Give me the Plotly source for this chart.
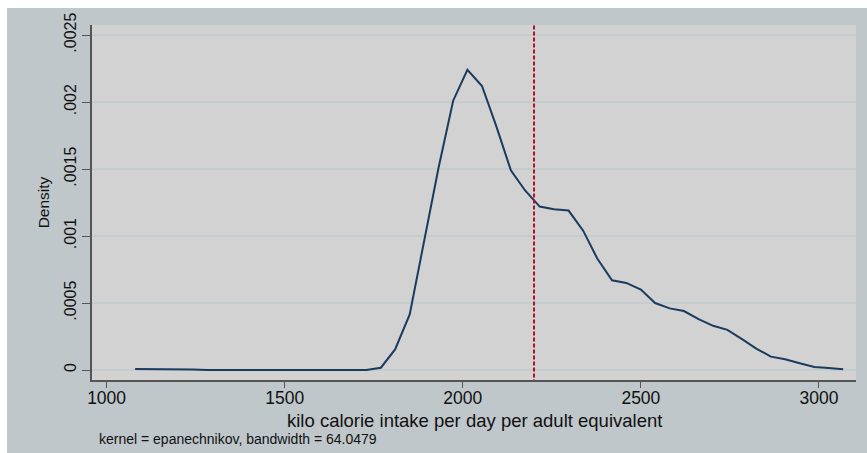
import plotly.graph_objects as go

# Kernel density estimate
kcal = [1080, 1121, 1161, 1202, 1242, 1283, 1323, 1364, 1405, 1445, 1486, 1526,
        1567, 1607, 1648, 1689, 1729, 1770, 1810, 1851, 1891, 1932, 1973, 2013,
        2054, 2094, 2135, 2175, 2216, 2256, 2297, 2338, 2378, 2419, 2459, 2500,
        2540, 2581, 2621, 2662, 2703, 2743, 2784, 2824, 2865, 2905, 2946, 2987,
        3027, 3068]
density = [0.0000075, 0.0000075, 0.0000075, 0.0000070, 0.000004, 0.0, 0.0, 0.0,
           0.0, 0.0, 0.0, 0.0, 0.0, 0.0, 0.0, 0.0, 0.0, 0.000017, 0.000154, 0.000415,
           0.00096, 0.00151, 0.00201, 0.00224, 0.00212, 0.00182, 0.00149, 0.00134,
           0.00122, 0.00120, 0.00119, 0.00104, 0.00083, 0.00067, 0.00065, 0.00060,
           0.00050, 0.00046, 0.00044, 0.00038, 0.00033, 0.00030, 0.00023, 0.00016,
           0.00010, 0.00008, 0.00005, 0.000022, 0.000015, 0.000005]
ref_line_x = 2200

x_ticks = [1000, 1500, 2000, 2500, 3000]
y_ticks = [0, 0.0005, 0.001, 0.0015, 0.002, 0.0025]
y_tick_text = ["0", ".0005", ".001", ".0015", ".002", ".0025"]

FONT = "Liberation Sans, Arial, sans-serif"
OUTER = "#bfc7ca"
PLOT = "#d2d2d2"
GRID = "#c3cccf"

fig = go.Figure()
fig.add_trace(go.Scatter(x=kcal, y=density, mode="lines",
                         line=dict(color="#1a3b5d", width=2), showlegend=False))
fig.add_trace(go.Scatter(x=[ref_line_x, ref_line_x], y=[-0.0001, 0.0026], mode="lines",
                         line=dict(color="#b3102b", width=2, dash="4px,2px"),
                         showlegend=False))

fig.update_layout(
    width=867, height=453,
    margin=dict(l=92, r=11, t=25, b=73),
    paper_bgcolor=OUTER, plot_bgcolor=PLOT,
    font=dict(family=FONT, color="#111111"),
    xaxis=dict(range=[959, 3104], tickvals=x_ticks, ticks="outside", ticklen=6,
               tickcolor="#555555", showline=True, linecolor="#555555", linewidth=1.5,
               showgrid=False, zeroline=False, tickfont=dict(size=17.5),
               ticklabelstandoff=-5),
    yaxis=dict(range=[-0.0000746, 0.002575], tickvals=y_ticks, ticktext=y_tick_text,
               tickangle=-90, ticks="outside", ticklen=8, tickcolor="#555555",
               showline=True, linecolor="#555555", linewidth=1.5,
               showgrid=True, gridcolor=GRID, gridwidth=1.5, zeroline=False,
               tickfont=dict(size=16),
               title=dict(text="Density", font=dict(size=15.5), standoff=8)),
    shapes=[
        dict(type="rect", xref="paper", yref="paper", x0=-0.2, x1=1.1,
             y0=(380 - 8) / 355, y1=1.2, fillcolor="white", line_width=0, layer="below"),
        dict(type="rect", xref="paper", yref="paper", x0=-0.2, x1=(7 - 92) / 764,
             y0=-0.3, y1=1.2, fillcolor="white", line_width=0, layer="below"),
    ],
    annotations=[
        dict(text="kilo calorie intake per day per adult equivalent", xref="paper",
             yref="paper", x=0.5, y=(380 - 420) / 355, xanchor="center",
             yanchor="middle", showarrow=False, font=dict(size=18.5)),
        dict(text="kernel = epanechnikov, bandwidth = 64.0479", xref="paper", yref="paper",
             x=(97 - 92) / 764, y=(380 - 439) / 355, xanchor="left", yanchor="middle",
             showarrow=False, font=dict(size=14)),
    ],
)

fig.write_html("out.html")
